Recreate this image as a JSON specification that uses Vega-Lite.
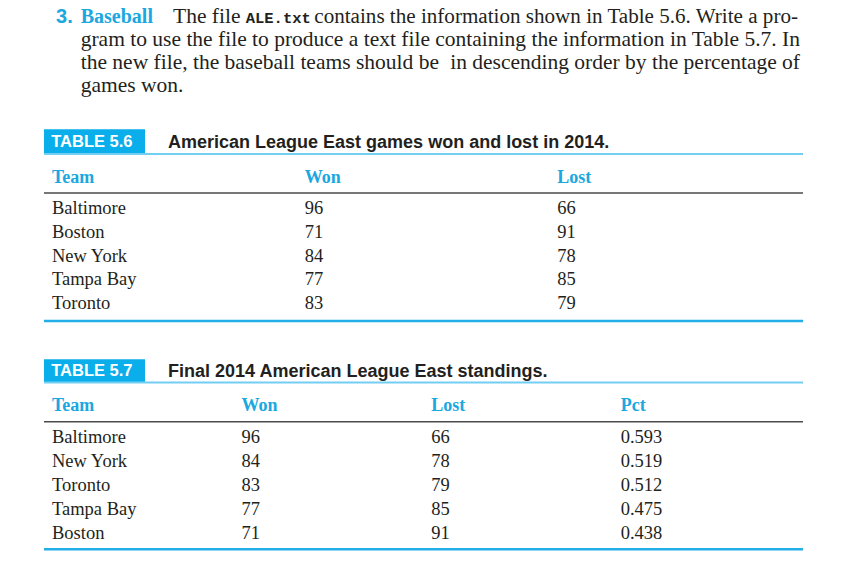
{
  "$schema": "https://vega.github.io/schema/vega-lite/v6.json",
  "width": 759,
  "height": 574,
  "padding": {"left": 44, "top": 0, "right": 41, "bottom": 0},
  "autosize": {"type": "none"},
  "background": "white",
  "config": {"view": {"stroke": null}, "axis": {"disable": true}},
  "datasets": {
    "paragraph": [
      {"line": 1, "part": "number", "text": "3."},
      {"line": 1, "part": "heading", "text": "Baseball"},
      {"line": 1, "part": "lead", "text": "The file"},
      {"line": 1, "part": "code", "text": "ALE.txt"},
      {"line": 1, "part": "tail", "text": "contains the information shown in Table 5.6. Write a pro-"},
      {"line": 2, "part": "start", "text": "gram to use the file to produce a text file"},
      {"line": 2, "part": "end", "text": "containing the information in Table 5.7. In"},
      {"line": 3, "part": "start", "text": "the new file, the baseball teams should be"},
      {"line": 3, "part": "end", "text": "in descending order by the percentage of"},
      {"line": 4, "part": "start", "text": "games won."}
    ],
    "captions": [
      {"id": "5.6", "label": "TABLE 5.6", "title": "American League East games won and lost in 2014."},
      {"id": "5.7", "label": "TABLE 5.7", "title": "Final 2014 American League East standings."}
    ],
    "t56": [
      {"Team": "Baltimore", "Won": 96, "Lost": 66},
      {"Team": "Boston", "Won": 71, "Lost": 91},
      {"Team": "New York", "Won": 84, "Lost": 78},
      {"Team": "Tampa Bay", "Won": 77, "Lost": 85},
      {"Team": "Toronto", "Won": 83, "Lost": 79}
    ],
    "t57": [
      {"Team": "Baltimore", "Won": 96, "Lost": 66, "Pct": 0.593},
      {"Team": "New York", "Won": 84, "Lost": 78, "Pct": 0.519},
      {"Team": "Toronto", "Won": 83, "Lost": 79, "Pct": 0.512},
      {"Team": "Tampa Bay", "Won": 77, "Lost": 85, "Pct": 0.475},
      {"Team": "Boston", "Won": 71, "Lost": 91, "Pct": 0.438}
    ]
  },
  "resolve": {"scale": {"x": "independent", "y": "independent"}},
  "layer": [
    {
      "data": {"name": "paragraph"},
      "transform": [{"filter": "datum.part === 'number'"}],
      "mark": {"type": "text", "align": "right", "baseline": "alphabetic", "font": "Liberation Sans", "fontWeight": "bold", "fontSize": 20, "color": "#1ba8e0", "dx": -8},
      "encoding": {
        "x": {"datum": 0, "type": "quantitative", "scale": {"domain": [0, 1], "range": [36.7, 756], "nice": false, "zero": false}},
        "y": {"field": "line", "type": "quantitative", "scale": {"domain": [1, 4], "range": [22.8, 92.4], "nice": false, "zero": false}},
        "text": {"field": "text"}
      }
    },
    {
      "data": {"name": "paragraph"},
      "transform": [{"filter": "datum.part === 'heading'"}],
      "mark": {"type": "text", "align": "left", "baseline": "alphabetic", "font": "Liberation Serif", "fontWeight": "bold", "fontSize": 20, "color": "#1ba8e0"},
      "encoding": {
        "x": {"datum": 0, "type": "quantitative", "scale": {"domain": [0, 1], "range": [36.7, 756], "nice": false, "zero": false}},
        "y": {"field": "line", "type": "quantitative", "scale": {"domain": [1, 4], "range": [22.8, 92.4], "nice": false, "zero": false}},
        "text": {"field": "text"}
      }
    },
    {
      "data": {"name": "paragraph"},
      "transform": [{"filter": "datum.part === 'lead'"}],
      "mark": {"type": "text", "align": "left", "baseline": "alphabetic", "font": "Liberation Serif", "fontSize": 21.5, "color": "#231f20", "dx": 92.3},
      "encoding": {
        "x": {"datum": 0, "type": "quantitative", "scale": {"domain": [0, 1], "range": [36.7, 756], "nice": false, "zero": false}},
        "y": {"field": "line", "type": "quantitative", "scale": {"domain": [1, 4], "range": [22.8, 92.4], "nice": false, "zero": false}},
        "text": {"field": "text"}
      }
    },
    {
      "data": {"name": "paragraph"},
      "transform": [{"filter": "datum.part === 'code'"}],
      "mark": {"type": "text", "align": "left", "baseline": "alphabetic", "font": "Liberation Mono", "fontWeight": "bold", "fontSize": 15.5, "color": "#231f20", "dx": 165},
      "encoding": {
        "x": {"datum": 0, "type": "quantitative", "scale": {"domain": [0, 1], "range": [36.7, 756], "nice": false, "zero": false}},
        "y": {"field": "line", "type": "quantitative", "scale": {"domain": [1, 4], "range": [22.8, 92.4], "nice": false, "zero": false}},
        "text": {"field": "text"}
      }
    },
    {
      "data": {"name": "paragraph"},
      "transform": [{"filter": "datum.part === 'tail'"}],
      "mark": {"type": "text", "align": "right", "baseline": "alphabetic", "font": "Liberation Serif", "fontSize": 21.1, "color": "#231f20", "dx": -2},
      "encoding": {
        "x": {"datum": 1, "type": "quantitative", "scale": {"domain": [0, 1], "range": [36.7, 756], "nice": false, "zero": false}},
        "y": {"field": "line", "type": "quantitative", "scale": {"domain": [1, 4], "range": [22.8, 92.4], "nice": false, "zero": false}},
        "text": {"field": "text"}
      }
    },
    {
      "data": {"name": "paragraph"},
      "transform": [{"filter": "datum.part === 'end'"}],
      "mark": {"type": "text", "align": "right", "baseline": "alphabetic", "font": "Liberation Serif", "fontSize": 21.5, "color": "#231f20"},
      "encoding": {
        "x": {"datum": 1, "type": "quantitative", "scale": {"domain": [0, 1], "range": [36.7, 756], "nice": false, "zero": false}},
        "y": {"field": "line", "type": "quantitative", "scale": {"domain": [1, 4], "range": [22.8, 92.4], "nice": false, "zero": false}},
        "text": {"field": "text"}
      }
    },
    {
      "data": {"name": "paragraph"},
      "transform": [{"filter": "datum.part === 'start'"}],
      "mark": {"type": "text", "align": "left", "baseline": "alphabetic", "font": "Liberation Serif", "fontSize": 21.5, "color": "#231f20"},
      "encoding": {
        "x": {"datum": 0, "type": "quantitative", "scale": {"domain": [0, 1], "range": [36.7, 756], "nice": false, "zero": false}},
        "y": {"field": "line", "type": "quantitative", "scale": {"domain": [1, 4], "range": [22.8, 92.4], "nice": false, "zero": false}},
        "text": {"field": "text"}
      }
    },

    {
      "data": {"name": "captions"},
      "transform": [{"filter": "datum.id === '5.6'"}],
      "mark": {"type": "rect", "color": "#0aaeea"},
      "encoding": {
        "x": {"datum": 0, "type": "quantitative", "scale": {"domain": [0, 1], "range": [0, 759], "nice": false, "zero": false}},
        "x2": {"datum": 0.1331},
        "y": {"datum": -2.555, "type": "quantitative", "scale": {"domain": [1, 5], "range": [214, 309.3], "nice": false, "zero": false}},
        "y2": {"datum": -1.539}
      }
    },
    {
      "data": {"name": "captions"},
      "transform": [{"filter": "datum.id === '5.6'"}],
      "mark": {"type": "text", "align": "left", "baseline": "alphabetic", "font": "Liberation Sans", "fontWeight": "bold", "fontSize": 16.5, "color": "white"},
      "encoding": {
        "x": {"datum": 0.0095, "type": "quantitative", "scale": {"domain": [0, 1], "range": [0, 759], "nice": false, "zero": false}},
        "y": {"datum": -1.82, "type": "quantitative", "scale": {"domain": [1, 5], "range": [214, 309.3], "nice": false, "zero": false}},
        "text": {"field": "label"}
      }
    },
    {
      "data": {"name": "captions"},
      "transform": [{"filter": "datum.id === '5.6'"}],
      "mark": {"type": "text", "align": "left", "baseline": "alphabetic", "font": "Liberation Sans", "fontWeight": "bold", "fontSize": 18, "color": "#231f20"},
      "encoding": {
        "x": {"datum": 0.1634, "type": "quantitative", "scale": {"domain": [0, 1], "range": [0, 759], "nice": false, "zero": false}},
        "y": {"datum": -1.783, "type": "quantitative", "scale": {"domain": [1, 5], "range": [214, 309.3], "nice": false, "zero": false}},
        "text": {"field": "title"}
      }
    },
    {
      "data": {"name": "captions"},
      "transform": [{"filter": "datum.id === '5.6'"}],
      "mark": {"type": "rule", "color": "#72cef2", "strokeWidth": 2},
      "encoding": {
        "y": {"datum": -1.518, "type": "quantitative", "scale": {"domain": [1, 5], "range": [214, 309.3], "nice": false, "zero": false}}
      }
    },
    {
      "data": {"name": "t56"},
      "transform": [
        {"fold": ["Team", "Won", "Lost"], "as": ["key", "value"]},
        {"aggregate": [{"op": "count", "as": "n"}], "groupby": ["key"]}
      ],
      "mark": {"type": "text", "align": "left", "baseline": "alphabetic", "font": "Liberation Serif", "fontWeight": "bold", "fontSize": 18, "color": "#1ba8e0"},
      "encoding": {
        "x": {"field": "key", "type": "nominal", "scale": {"type": "point", "domain": ["Team", "Won", "Lost"], "range": [8, 513.3], "padding": 0}},
        "y": {"datum": -0.289, "type": "quantitative", "scale": {"domain": [1, 5], "range": [214, 309.3], "nice": false, "zero": false}},
        "text": {"field": "key"}
      }
    },
    {
      "data": {"name": "captions"},
      "transform": [{"filter": "datum.id === '5.6'"}],
      "mark": {"type": "rule", "color": "#4a4a4a", "strokeWidth": 1.5},
      "encoding": {
        "y": {"datum": 0.119, "type": "quantitative", "scale": {"domain": [1, 5], "range": [214, 309.3], "nice": false, "zero": false}}
      }
    },
    {
      "data": {"name": "t56"},
      "transform": [
        {"window": [{"op": "row_number", "as": "row"}]},
        {"fold": ["Team", "Won", "Lost"], "as": ["key", "value"]}
      ],
      "mark": {"type": "text", "align": "left", "baseline": "alphabetic", "font": "Liberation Serif", "fontSize": 18.5, "color": "#231f20"},
      "encoding": {
        "x": {"field": "key", "type": "nominal", "scale": {"type": "point", "domain": ["Team", "Won", "Lost"], "range": [8, 513.3], "padding": 0}},
        "y": {"field": "row", "type": "quantitative", "scale": {"domain": [1, 5], "range": [214, 309.3], "nice": false, "zero": false}},
        "text": {"field": "value", "type": "nominal"}
      }
    },
    {
      "data": {"name": "captions"},
      "transform": [{"filter": "datum.id === '5.6'"}],
      "mark": {"type": "rule", "color": "#22aee6", "strokeWidth": 2.5},
      "encoding": {
        "y": {"datum": 5.491, "type": "quantitative", "scale": {"domain": [1, 5], "range": [214, 309.3], "nice": false, "zero": false}}
      }
    },

    {
      "data": {"name": "captions"},
      "transform": [{"filter": "datum.id === '5.7'"}],
      "mark": {"type": "rect", "color": "#0aaeea"},
      "encoding": {
        "x": {"datum": 0, "type": "quantitative", "scale": {"domain": [0, 1], "range": [0, 759], "nice": false, "zero": false}},
        "x2": {"datum": 0.1331},
        "y": {"datum": -2.5, "type": "quantitative", "scale": {"domain": [1, 5], "range": [443.3, 539.3], "nice": false, "zero": false}},
        "y2": {"datum": -1.542}
      }
    },
    {
      "data": {"name": "captions"},
      "transform": [{"filter": "datum.id === '5.7'"}],
      "mark": {"type": "text", "align": "left", "baseline": "alphabetic", "font": "Liberation Sans", "fontWeight": "bold", "fontSize": 16.5, "color": "white"},
      "encoding": {
        "x": {"datum": 0.0095, "type": "quantitative", "scale": {"domain": [0, 1], "range": [0, 759], "nice": false, "zero": false}},
        "y": {"datum": -1.79, "type": "quantitative", "scale": {"domain": [1, 5], "range": [443.3, 539.3], "nice": false, "zero": false}},
        "text": {"field": "label"}
      }
    },
    {
      "data": {"name": "captions"},
      "transform": [{"filter": "datum.id === '5.7'"}],
      "mark": {"type": "text", "align": "left", "baseline": "alphabetic", "font": "Liberation Sans", "fontWeight": "bold", "fontSize": 18, "color": "#231f20"},
      "encoding": {
        "x": {"datum": 0.1634, "type": "quantitative", "scale": {"domain": [0, 1], "range": [0, 759], "nice": false, "zero": false}},
        "y": {"datum": -1.775, "type": "quantitative", "scale": {"domain": [1, 5], "range": [443.3, 539.3], "nice": false, "zero": false}},
        "text": {"field": "title"}
      }
    },
    {
      "data": {"name": "captions"},
      "transform": [{"filter": "datum.id === '5.7'"}],
      "mark": {"type": "rule", "color": "#72cef2", "strokeWidth": 2},
      "encoding": {
        "y": {"datum": -1.533, "type": "quantitative", "scale": {"domain": [1, 5], "range": [443.3, 539.3], "nice": false, "zero": false}}
      }
    },
    {
      "data": {"name": "t57"},
      "transform": [
        {"fold": ["Team", "Won", "Lost", "Pct"], "as": ["key", "value"]},
        {"aggregate": [{"op": "count", "as": "n"}], "groupby": ["key"]}
      ],
      "mark": {"type": "text", "align": "left", "baseline": "alphabetic", "font": "Liberation Serif", "fontWeight": "bold", "fontSize": 18, "color": "#1ba8e0"},
      "encoding": {
        "x": {"field": "key", "type": "nominal", "scale": {"type": "point", "domain": ["Team", "Won", "Lost", "Pct"], "range": [8, 576.7], "padding": 0}},
        "y": {"datum": -0.346, "type": "quantitative", "scale": {"domain": [1, 5], "range": [443.3, 539.3], "nice": false, "zero": false}},
        "text": {"field": "key"}
      }
    },
    {
      "data": {"name": "captions"},
      "transform": [{"filter": "datum.id === '5.7'"}],
      "mark": {"type": "rule", "color": "#4a4a4a", "strokeWidth": 1.5},
      "encoding": {
        "y": {"datum": 0.1, "type": "quantitative", "scale": {"domain": [1, 5], "range": [443.3, 539.3], "nice": false, "zero": false}}
      }
    },
    {
      "data": {"name": "t57"},
      "transform": [
        {"window": [{"op": "row_number", "as": "row"}]},
        {"fold": ["Team", "Won", "Lost", "Pct"], "as": ["key", "value"]}
      ],
      "mark": {"type": "text", "align": "left", "baseline": "alphabetic", "font": "Liberation Serif", "fontSize": 18.5, "color": "#231f20"},
      "encoding": {
        "x": {"field": "key", "type": "nominal", "scale": {"type": "point", "domain": ["Team", "Won", "Lost", "Pct"], "range": [8, 576.7], "padding": 0}},
        "y": {"field": "row", "type": "quantitative", "scale": {"domain": [1, 5], "range": [443.3, 539.3], "nice": false, "zero": false}},
        "text": {"field": "value", "type": "nominal"}
      }
    },
    {
      "data": {"name": "captions"},
      "transform": [{"filter": "datum.id === '5.7'"}],
      "mark": {"type": "rule", "color": "#22aee6", "strokeWidth": 2.5},
      "encoding": {
        "y": {"datum": 5.417, "type": "quantitative", "scale": {"domain": [1, 5], "range": [443.3, 539.3], "nice": false, "zero": false}}
      }
    }
  ]
}
